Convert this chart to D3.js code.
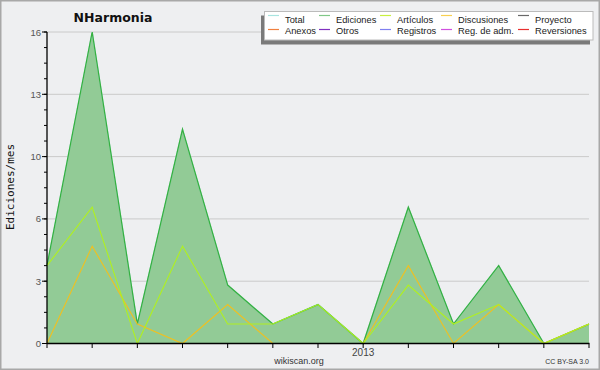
<!DOCTYPE html>
<html><head><meta charset="utf-8">
<script src="https://cdn.jsdelivr.net/npm/d3@7"></script>
<style>body{margin:0;background:#eeeff1}svg{display:block}</style>
</head><body>
<svg id="c" width="600" height="370"></svg>
<script>
const months = ["2012-06","2012-07","2012-08","2012-09","2012-10","2012-11","2012-12","2013-01","2013-02","2013-03","2013-04","2013-05","2013-06"];
const total      = [4,16,1,11,3,1,2,0,7,1,4,0,1];
const ediciones  = [4,16,1,11,3,1,2,0,7,1,4,0,1];
const articulos  = [4,7,0,5,1,1,2,0,3,1,2,0,1];
const discusiones= [0,5,1,0,2,0,0,0,4,0,2,0,1];
const yTickValues = [0,3.2,6.4,9.6,12.8,16];
const yTickLabels = ["0","3","6","10","13","16"];
const xLabels = {"2013-01":"2013"};
const legendItems = [
 ["Total","#a8e4e0"],["Ediciones","#80c888"],["Artículos","#c8f040"],["Discusiones","#f8d050"],["Proyecto","#686868"],
 ["Anexos","#f08040"],["Otros","#8030c0"],["Registros","#8080f0"],["Reg. de adm.","#d050e0"],["Reversiones","#e83030"]
];

const svg = d3.select("#c");
const F = "DejaVu Sans, sans-serif";
const FL = "Liberation Sans, Arial, sans-serif";
svg.append("rect").attr("x",0.75).attr("y",0.75).attr("width",598.5).attr("height",368.5)
  .attr("fill","#eeeff1").attr("stroke","#a8a8a8").attr("stroke-width",1.5);

const x = d3.scalePoint().domain(months).range([47,589]);
const y = d3.scaleLinear().domain([0,16]).range([343.5,32]);

// grid
svg.append("g").selectAll("line").data(yTickValues.slice(1)).join("line")
  .attr("x1",47).attr("x2",589).attr("y1",d=>y(d)).attr("y2",d=>y(d))
  .attr("stroke","#cacaca").attr("stroke-width",1);

// area
const area = d3.area().x((d,i)=>x(months[i])).y0(y(0)).y1(d=>y(d));
const line = d3.line().x((d,i)=>x(months[i])).y(d=>y(d));
svg.append("path").datum(ediciones).attr("d",area).attr("fill","#92cb96");
svg.append("path").datum(total).attr("d",line).attr("fill","none").attr("stroke","#a8e4e0").attr("stroke-width",1.2);
svg.append("path").datum(ediciones).attr("d",line).attr("fill","none").attr("stroke","#38b040").attr("stroke-width",1.3);
svg.append("path").datum(discusiones).attr("d",line).attr("fill","none").attr("stroke","#f0c020").attr("stroke-width",1.1);
svg.append("path").datum(articulos).attr("d",line).attr("fill","none").attr("stroke","#b0f020").attr("stroke-width",1.1);

// y axis
const minor = d3.range(0,16.01,0.8);
const ya = svg.append("g");
ya.append("line").attr("x1",47).attr("x2",47).attr("y1",32).attr("y2",344).attr("stroke","#000").attr("stroke-width",1.3);
ya.selectAll(".mi").data(minor).join("line").attr("x1",44).attr("x2",47)
  .attr("y1",d=>y(d)).attr("y2",d=>y(d)).attr("stroke","#000");
ya.selectAll(".ma").data(yTickValues).join("line").attr("x1",42).attr("x2",47)
  .attr("y1",d=>y(d)).attr("y2",d=>y(d)).attr("stroke","#000");
ya.selectAll("text").data(yTickValues).join("text").attr("x",41).attr("y",d=>y(d)+3.5)
  .attr("text-anchor","end").attr("font-family",FL).attr("font-size",9.5).attr("fill","#555")
  .text((d,i)=>yTickLabels[i]);

// x axis
const xa = svg.append("g");
xa.append("line").attr("x1",47).attr("x2",589.5).attr("y1",y(0)).attr("y2",y(0)).attr("stroke","#000").attr("stroke-width",1.3);
xa.selectAll("line.t").data(months).join("line").attr("x1",d=>x(d)).attr("x2",d=>x(d))
  .attr("y1",y(0)).attr("y2",y(0)+4.5).attr("stroke","#000");
xa.selectAll("text").data(months.filter(m=>xLabels[m])).join("text")
  .attr("x",d=>x(d)).attr("y",356).attr("text-anchor","middle").attr("font-family",FL)
  .attr("font-size",10).attr("fill","#444").text(d=>xLabels[d]);

// labels
svg.append("text").attr("transform","translate(14,187) rotate(-90)").attr("text-anchor","middle")
  .attr("font-family","DejaVu Sans Mono, monospace").attr("font-size",11).attr("fill","#111").text("Ediciones/mes");
svg.append("text").attr("x",113).attr("y",22).attr("text-anchor","middle").attr("font-family",F)
  .attr("font-weight","bold").attr("font-size",12.5).attr("fill","#111").text("NHarmonia");
svg.append("text").attr("x",299).attr("y",364).attr("text-anchor","middle").attr("font-family",FL)
  .attr("font-size",9).attr("fill","#333").text("wikiscan.org");
svg.append("text").attr("x",589).attr("y",364).attr("text-anchor","end").attr("font-family",FL)
  .attr("font-size",7).attr("fill","#333").text("CC BY-SA 3.0");

// legend
const lg = svg.append("g");
lg.append("rect").attr("x",261).attr("y",15.5).attr("width",329).attr("height",29).attr("fill","#7a7a7a");
lg.append("rect").attr("x",264.5).attr("y",11.5).attr("width",328.5).attr("height",28.5).attr("fill","#fff").attr("stroke","#bbb").attr("stroke-width",1);
const colX = [268,319,380,441,518];
legendItems.forEach((it,i)=>{
  const r = Math.floor(i/5), c = i%5;
  const ly = r ? 29.5 : 15.5;
  lg.append("line").attr("x1",colX[c]).attr("x2",colX[c]+11).attr("y1",ly).attr("y2",ly)
    .attr("stroke",it[1]).attr("stroke-width",1.2);
  lg.append("text").attr("x",colX[c]+17).attr("y",r ? 33.5 : 22.5).attr("font-family",FL).attr("font-size",9.3)
    .attr("fill","#222").text(it[0]);
});
</script>
</body></html>
